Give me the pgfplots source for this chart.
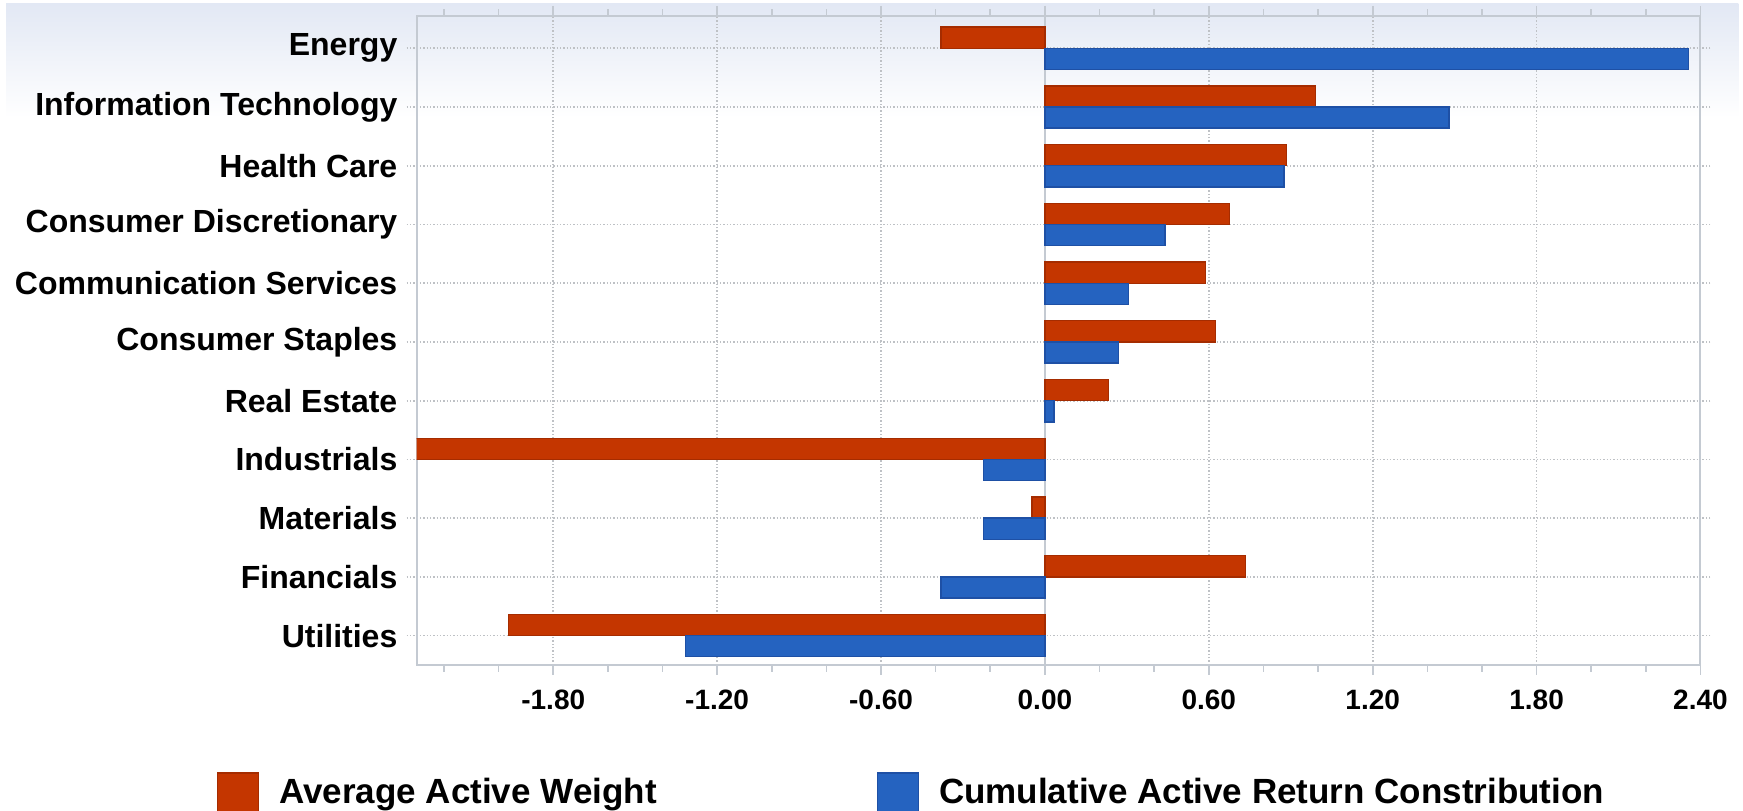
\documentclass[border=0pt]{standalone}
\usepackage{fontspec}
\setmainfont{Liberation Sans}
\usepackage{pgfplots}
\pgfplotsset{compat=1.18}
\definecolor{awred}{RGB}{196,54,0}
\definecolor{awredd}{RGB}{165,44,0}
\definecolor{crblue}{RGB}{37,99,192}
\definecolor{crblued}{RGB}{30,80,165}
\definecolor{axgray}{RGB}{196,202,210}
\definecolor{grgray}{RGB}{190,193,197}
\definecolor{bgblue}{RGB}{226,232,244}
\begin{document}
\begin{tikzpicture}
\useasboundingbox (0,0) rectangle (522.9pt,243.3pt);
\fill[top color=bgblue, bottom color=white] (1.8pt,208pt) rectangle (521.5pt,242.1pt);
\begin{axis}[
  at={(125pt,43.8pt)}, anchor=south west,
  scale only axis, width=385.15pt, height=194.7pt,
  xmin=-2.3, xmax=2.4, ymin=-0.5, ymax=10.55,
  xbar, bar width=0.36,
  axis line style={axgray, line width=0.6pt},
  xtick={-1.8,-1.2,-0.6,0,0.6,1.2,1.8,2.4},
  xticklabels={-1.80,-1.20,-0.60,0.00,0.60,1.20,1.80,2.40},
  minor xtick={-2.2,-2.0,-1.6,-1.4,-1.0,-0.8,-0.4,-0.2,0.2,0.4,0.8,1.0,1.4,1.6,2.0,2.2},
  ytick={0,1,2,3,4,5,6,7,8,9,10},
  yticklabels={Utilities,Financials,Materials,Industrials,Real Estate,Consumer Staples,Communication Services,Consumer Discretionary,Health Care,Information Technology,Energy},
  tick align=outside,
  major tick length=3pt, minor tick length=2pt,
  x tick style={axgray, line width=0.5pt},
  y tick style={grgray, dash pattern=on 0.4pt off 0.6pt, line width=0.5pt},
  xmajorgrids, ymajorgrids,
  major grid style={grgray, dash pattern=on 0.4pt off 0.6pt, line width=0.5pt},
  extra x ticks={0}, extra x tick labels={},
  extra x tick style={xmajorgrids=true, major grid style={solid, draw=axgray, line width=0.7pt}},
  yticklabel style={font=\bfseries\fontsize{9.6}{11}\selectfont, inner sep=0pt, xshift=-2.6pt},
  xticklabel style={font=\bfseries\fontsize{8.4}{10}\selectfont, inner sep=0pt, yshift=-4.2pt},
  legend columns=2,
  legend cell align=left,
  legend style={at={(-0.1555,-0.197)}, anchor=west, draw=none, fill=none,
    inner sep=0pt, outer sep=0pt, nodes={inner sep=0pt},
    font=\bfseries\fontsize{10.5}{12}\selectfont,
    /tikz/every odd column/.append style={column sep=6pt},
    /tikz/every even column/.append style={column sep=66pt}},
  legend image code/.code={\fill[#1] (0pt,-6pt) rectangle (12.3pt,6pt);},
]
\addplot[xbar, bar shift=0.18, fill=awred, draw=awredd, line width=0.4pt] coordinates {
  (-0.380,10) (0.990,9) (0.885,8) (0.675,7) (0.588,6) (0.625,5)
  (0.233,4) (-2.350,3) (-0.047,2) (0.735,1) (-1.965,0)
};
\addlegendentry{Average Active Weight}
\addplot[xbar, bar shift=-0.18, fill=crblue, draw=crblued, line width=0.4pt] coordinates {
  (2.357,10) (1.479,9) (0.875,8) (0.439,7) (0.307,6) (0.270,5)
  (0.033,4) (-0.225,3) (-0.225,2) (-0.380,1) (-1.317,0)
};
\addlegendentry{Cumulative Active Return Constribution}
\end{axis}
\end{tikzpicture}
\end{document}
